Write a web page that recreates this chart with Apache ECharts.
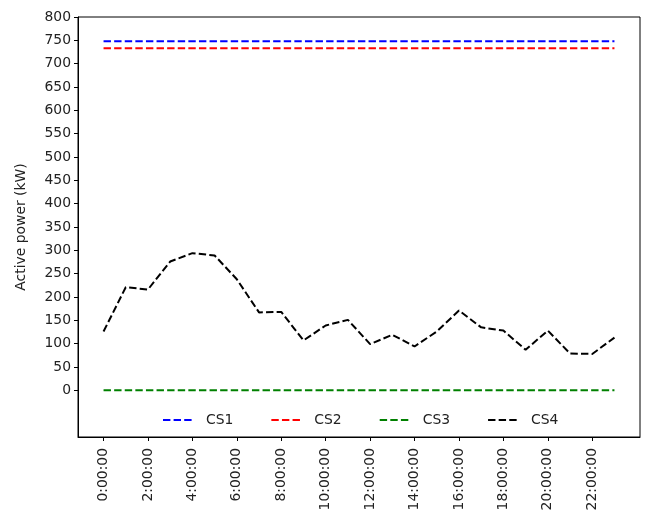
<!DOCTYPE html>
<html><head><meta charset="utf-8">
<script src="https://cdn.jsdelivr.net/npm/echarts@6/dist/echarts.min.js"></script>
<style>html,body{margin:0;padding:0;background:#fff}#c{width:645px;height:518px}</style>
</head><body><div id="c"></div>
<script>
const hours = [0,1,2,3,4,5,6,7,8,9,10,11,12,13,14,15,16,17,18,19,20,21,22,23];
const xTickValues = [0,2,4,6,8,10,12,14,16,18,20,22];
const xTickLabels = ['0:00:00','2:00:00','4:00:00','6:00:00','8:00:00','10:00:00','12:00:00','14:00:00','16:00:00','18:00:00','20:00:00','22:00:00'];
const yTickValues = [0,50,100,150,200,250,300,350,400,450,500,550,600,650,700,750,800];
const seriesNames = ['CS1','CS2','CS3','CS4'];
const cs1 = [748,748,748,748,748,748,748,748,748,748,748,748,748,748,748,748,748,748,748,748,748,748,748,748];
const cs2 = [733,733,733,733,733,733,733,733,733,733,733,733,733,733,733,733,733,733,733,733,733,733,733,733];
const cs3 = [0,0,0,0,0,0,0,0,0,0,0,0,0,0,0,0,0,0,0,0,0,0,0,0];
const cs4 = [126,221,216,276,294,289,238,167,168,107,139,151,99,119,94,126,171,135,128,87,128,79,78,113];
const colors = ['#0000ff','#ff0000','#008000','#000000'];
const values = [cs1,cs2,cs3,cs4];

const chart = echarts.init(document.getElementById('c'), null, {renderer:'canvas'});
const font = 'DejaVu Sans';
const fs = 13.9;
chart.setOption({
  backgroundColor:'#fff',
  animation:false,
  grid:{left:78,right:5,top:17,bottom:81,show:true,borderColor:'#000',borderWidth:1,backgroundColor:'transparent'},
  legend:{
    data:seriesNames, left:157, top:408, itemWidth:30, itemHeight:14, itemGap:37,
    itemStyle:{opacity:0},
    textStyle:{fontFamily:font,fontSize:fs,color:'#222',padding:[0,0,0,8]}
  },
  xAxis:{
    type:'value', min:-1.15, max:24.15,
    axisLine:{show:true,onZero:false,lineStyle:{color:'#000',width:1}},
    axisTick:{show:true,length:4,inside:false,lineStyle:{color:'#000'},customValues:xTickValues},
    axisLabel:{rotate:90,margin:11,fontFamily:font,fontSize:fs,color:'#222',customValues:xTickValues,
      formatter:function(v){const i=xTickValues.indexOf(v);return i>=0?xTickLabels[i]:'';}},
    splitLine:{show:false}
  },
  yAxis:{
    type:'value', min:-100, max:800, interval:50,
    name:'Active power (kW)', nameLocation:'middle', nameGap:50,
    nameTextStyle:{fontFamily:font,fontSize:fs,color:'#222'},
    axisLine:{show:true,onZero:false,lineStyle:{color:'#000',width:1}},
    axisTick:{show:true,length:4,inside:false,lineStyle:{color:'#000'},customValues:yTickValues},
    axisLabel:{margin:7,fontFamily:font,fontSize:fs,color:'#222',customValues:yTickValues},
    splitLine:{show:false}
  },
  series: seriesNames.map((n,i)=>({
    name:n, type:'line', symbol:'none', showSymbol:false,
    data: hours.map((h,j)=>[h, values[i][j]]),
    lineStyle:{color:colors[i],width:2,type:[7.4,3.2]},
    itemStyle:{color:colors[i]}
  }))
});
</script></body></html>
